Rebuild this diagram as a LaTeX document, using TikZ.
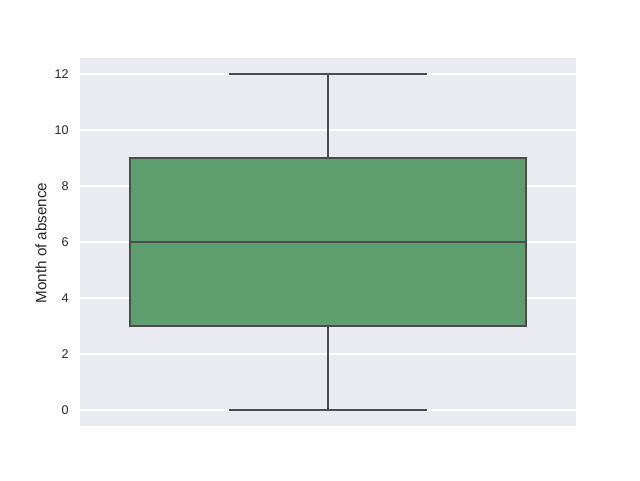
\documentclass[tikz,border=0pt]{standalone}
\usepackage{fontspec}
\setmainfont{Liberation Sans}
\usepackage{tikz}
\usetikzlibrary{positioning,calc}

\definecolor{panelbg}{HTML}{EAEAF2}
\definecolor{boxgreen}{HTML}{5F9E6E}
\definecolor{edgegray}{HTML}{4C4C4C}
\definecolor{ticktext}{HTML}{262626}

\begin{document}
\begin{tikzpicture}[
    x=0.5pt, y=0.5pt,
    panel/.style={fill=panelbg, draw=none},
    gridline/.style={white, line width=0.55pt},
    tick/.style={font=\fontsize{6.3}{7}\selectfont, text=ticktext, anchor=east, inner sep=0pt},
    axlabel/.style={font=\fontsize{7.6}{9}\selectfont, text=ticktext, rotate=90, inner sep=0pt},
    boxbody/.style={fill=boxgreen, draw=edgegray, line width=1.1pt},
    whisker/.style={draw=edgegray, line width=1.1pt}
]
\useasboundingbox (0,0) rectangle (640,480);

% Axes background
\fill[panel] (80,54) rectangle (576,422);

% Grid lines and tick labels
\foreach \v in {0,2,...,12} {
    \draw[gridline] (80,70+28*\v) -- (576,70+28*\v);
    \node[tick] (t\v) at (69,70+28*\v) {\v};
}

% Axis label
\node[axlabel] (ylab) at (41,237) {Month of absence};

% Whisker ends
\coordinate (lo) at (328,70);
\coordinate (hi) at (328,406);
\coordinate (q1) at (328,154);
\coordinate (q3) at (328,322);

% Whiskers and caps
\draw[whisker] (lo) -- (q1);
\draw[whisker] (q3) -- (hi);
\draw[whisker] ($(lo)+(-99,0)$) -- ($(lo)+(99,0)$);
\draw[whisker] ($(hi)+(-99,0)$) -- ($(hi)+(99,0)$);

% Box and median
\draw[boxbody] (130,154) rectangle (526,322);
\draw[whisker] (130,238) -- (526,238);
\end{tikzpicture}
\end{document}
